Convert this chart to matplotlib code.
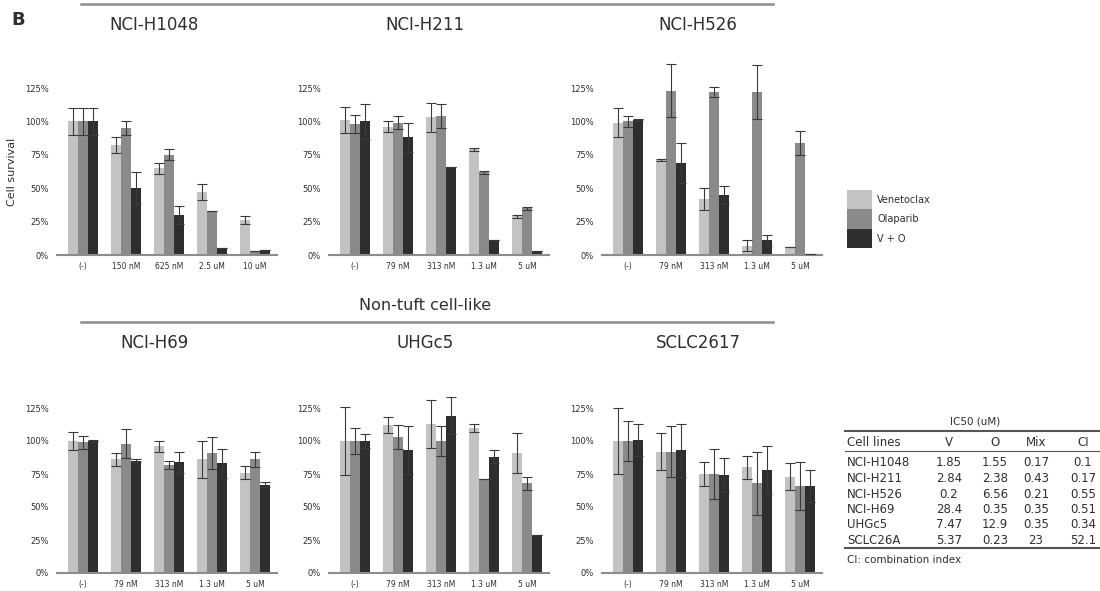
import matplotlib.pyplot as plt
import numpy as np
from matplotlib.patches import Patch
from matplotlib.lines import Line2D

W, H = 1100, 591

treatments = ["Venetoclax", "Olaparib", "V + O"]
bar_colors = ["#c3c3c3", "#8a8a8a", "#2e2e2e"]

doses_h1048 = ["(-)", "150 nM", "625 nM", "2.5 uM", "10 uM"]
doses_std = ["(-)", "79 nM", "313 nM", "1.3 uM", "5 uM"]

# cell survival (%) -- mean and error, per treatment
h1048_v = [100, 82, 65, 47, 26]
h1048_v_err = [10, 6, 4, 6, 3]
h1048_o = [100, 95, 75, 33, 3]
h1048_o_err = [10, 5, 4, 0, 0]
h1048_vo = [100, 50, 30, 5, 4]
h1048_vo_err = [10, 12, 7, 0, 0]

h211_v = [101, 96, 103, 79, 29]
h211_v_err = [10, 4, 11, 1, 1]
h211_o = [98, 99, 104, 62, 35]
h211_o_err = [7, 5, 9, 1, 1]
h211_vo = [100, 88, 66, 11, 3]
h211_vo_err = [13, 11, 0, 0, 0]

h526_v = [99, 71, 42, 7, 6]
h526_v_err = [11, 1, 8, 4, 0]
h526_o = [100, 123, 122, 122, 84]
h526_o_err = [4, 20, 4, 20, 9]
h526_vo = [101, 69, 45, 11, 1]
h526_vo_err = [1, 15, 7, 4, 0]

h69_v = [100, 86, 96, 86, 76]
h69_v_err = [7, 5, 4, 14, 5]
h69_o = [99, 98, 82, 91, 86]
h69_o_err = [5, 11, 3, 12, 6]
h69_vo = [100, 85, 84, 83, 67]
h69_vo_err = [1, 1, 8, 11, 2]

uhgc5_v = [100, 112, 113, 110, 91]
uhgc5_v_err = [26, 6, 18, 3, 15]
uhgc5_o = [100, 103, 100, 71, 68]
uhgc5_o_err = [10, 9, 11, 0, 5]
uhgc5_vo = [100, 93, 119, 88, 29]
uhgc5_vo_err = [5, 18, 14, 5, 0]

sclc_v = [100, 92, 75, 80, 73]
sclc_v_err = [25, 14, 9, 9, 10]
sclc_o = [100, 92, 75, 68, 66]
sclc_o_err = [15, 19, 19, 24, 18]
sclc_vo = [101, 93, 74, 78, 66]
sclc_vo_err = [12, 20, 13, 18, 12]

# IC50 table
cell_lines = ["NCI-H1048", "NCI-H211", "NCI-H526", "NCI-H69", "UHGc5", "SCLC26A"]
ic50_v = ["1.85", "2.84", "0.2", "28.4", "7.47", "5.37"]
ic50_o = ["1.55", "2.38", "6.56", "0.35", "12.9", "0.23"]
ic50_mix = ["0.17", "0.43", "0.21", "0.35", "0.35", "23"]
ci_vals = ["0.1", "0.17", "0.55", "0.51", "0.34", "52.1"]

panels = [
    ("NCI-H1048", doses_h1048, [h1048_v, h1048_o, h1048_vo], [h1048_v_err, h1048_o_err, h1048_vo_err]),
    ("NCI-H211", doses_std, [h211_v, h211_o, h211_vo], [h211_v_err, h211_o_err, h211_vo_err]),
    ("NCI-H526", doses_std, [h526_v, h526_o, h526_vo], [h526_v_err, h526_o_err, h526_vo_err]),
    ("NCI-H69", doses_std, [h69_v, h69_o, h69_vo], [h69_v_err, h69_o_err, h69_vo_err]),
    ("UHGc5", doses_std, [uhgc5_v, uhgc5_o, uhgc5_vo], [uhgc5_v_err, uhgc5_o_err, uhgc5_vo_err]),
    ("SCLC2617", doses_std, [sclc_v, sclc_o, sclc_vo], [sclc_v_err, sclc_o_err, sclc_vo_err]),
]

TXT = "#2f2f2f"
fig = plt.figure(figsize=(W / 100, H / 100), dpi=100)

def fx(px):
    return px / W

def fy(py):
    return 1 - py / H

YMAX = 145
unit = 43.0
col_x0 = [83, 355, 628]
row_base = [255, 573]
row_scale = [1.336, 1.32]
title_x = [154, 425, 698]
title_y = [25, 343]

for i, (name, doses, means, errs) in enumerate(panels):
    r, c = divmod(i, 3)
    left = col_x0[c] - 0.6 * unit
    right = col_x0[c] + 4.5 * unit
    base = row_base[r]
    top = base - YMAX * row_scale[r]
    ax = fig.add_axes([fx(left), fy(base), (right - left) / W, (base - top) / H])
    x = np.arange(len(doses))
    w = 0.23
    for k in range(3):
        ax.bar(x + (k - 1) * w, means[k], w, color=bar_colors[k], edgecolor="none", zorder=2)
        ax.errorbar(x + (k - 1) * w, means[k], yerr=errs[k], fmt="none", ecolor="#3a3a3a",
                    elinewidth=0.8, capsize=3.3, capthick=0.8, zorder=3, clip_on=False)
    ax.set_xlim(-0.6, 4.5)
    ax.set_ylim(0, YMAX)
    ax.set_yticks([0, 25, 50, 75, 100, 125])
    ax.set_yticklabels(["0%", "25%", "50%", "75%", "100%", "125%"])
    ax.set_xticks(x)
    ax.set_xticklabels(doses)
    ax.tick_params(axis="y", length=0, pad=6, labelsize=6, labelcolor=TXT)
    ax.tick_params(axis="x", length=0, pad=5, labelsize=5.5, labelcolor=TXT)
    for s in ["top", "right", "left"]:
        ax.spines[s].set_visible(False)
    ax.spines["bottom"].set_color("#8c8c8c")
    ax.spines["bottom"].set_linewidth(1.5)
    ax.patch.set_alpha(0)
    fig.text(fx(title_x[c]), fy(title_y[r]), name, ha="center", va="center", fontsize=12, color=TXT)

# group headers
fig.add_artist(Line2D([fx(81), fx(773)], [fy(4), fy(4)], color="#8c8c8c", lw=1.8))
fig.add_artist(Line2D([fx(81), fx(773)], [fy(322), fy(322)], color="#8c8c8c", lw=1.8))
fig.text(fx(425), fy(305), "Non-tuft cell-like", ha="center", va="center", fontsize=11.5, color=TXT)

fig.text(fx(18), fy(20), "B", ha="center", va="center", fontsize=13, fontweight="bold", color=TXT)
fig.text(fx(12), fy(172), "Cell survival", rotation=90, ha="center", va="center", fontsize=8, color=TXT)

# legend
handles = [Patch(facecolor=cc, edgecolor="none") for cc in bar_colors]
fig.legend(handles, treatments, loc="upper left", bbox_to_anchor=(fx(847), fy(190)),
           frameon=False, fontsize=7, handlelength=2.6, handleheight=2.7, labelspacing=0,
           handletextpad=0.5, borderpad=0, borderaxespad=0, labelcolor=TXT)

# IC50 table
fig.text(fx(975), fy(422), "IC50 (uM)", ha="center", va="center", fontsize=7.5, color=TXT)
fig.add_artist(Line2D([fx(845), fx(1100)], [fy(431), fy(431)], color="#555555", lw=1.5))
hdr_y = 443
col_pos = [949, 995, 1036, 1083]
fig.text(fx(847), fy(hdr_y), "Cell lines", ha="left", va="center", fontsize=8.5, color=TXT)
for cx, lab in zip(col_pos, ["V", "O", "Mix", "CI"]):
    fig.text(fx(cx), fy(hdr_y), lab, ha="center", va="center", fontsize=8.5, color=TXT)
fig.add_artist(Line2D([fx(845), fx(1100)], [fy(451), fy(451)], color="#555555", lw=0.8))
for j, cl in enumerate(cell_lines):
    yy = 463 + j * 15.5
    fig.text(fx(847), fy(yy), cl, ha="left", va="center", fontsize=8.5, color=TXT)
    for cx, v in zip(col_pos, [ic50_v[j], ic50_o[j], ic50_mix[j], ci_vals[j]]):
        fig.text(fx(cx), fy(yy), v, ha="center", va="center", fontsize=8.5, color=TXT)
fig.add_artist(Line2D([fx(845), fx(1100)], [fy(548), fy(548)], color="#555555", lw=1.5))
fig.text(fx(847), fy(560), "CI: combination index", ha="left", va="center", fontsize=7.5, color=TXT)

fig.savefig("out.png", dpi=100)
